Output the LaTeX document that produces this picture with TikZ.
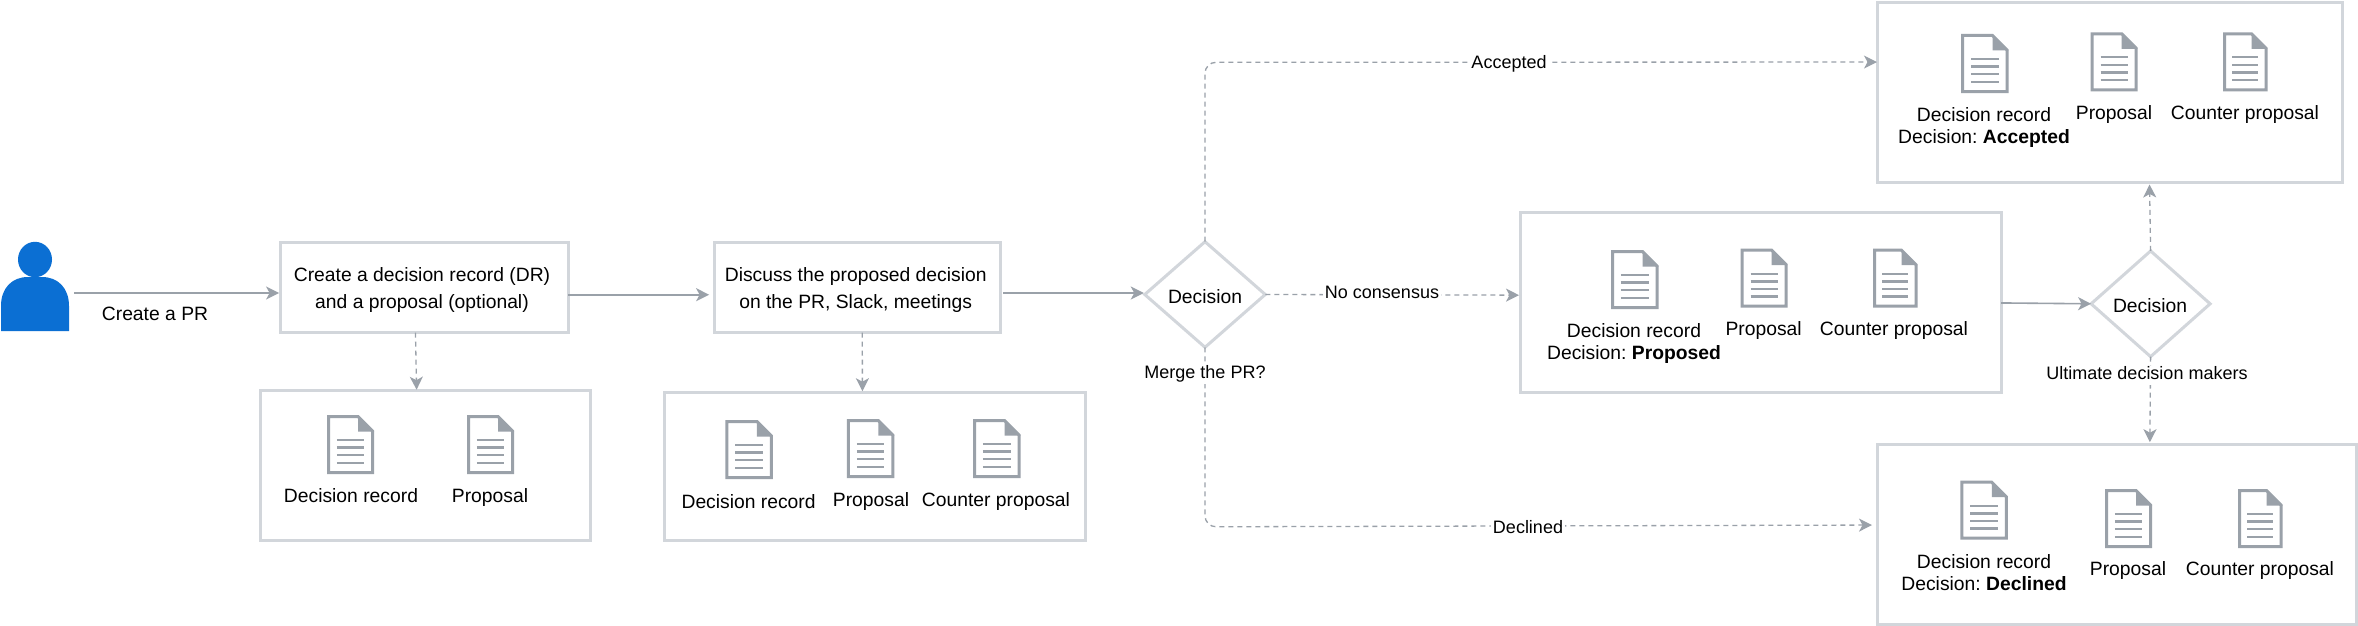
\documentclass[tikz,border=0pt]{standalone}
\usepackage{fontspec}
\setmainfont{Liberation Sans}
\AtBeginDocument{\frenchspacing}
\usetikzlibrary{arrows.meta,shapes.geometric}
\definecolor{edgegray}{HTML}{9AA1A9}
\definecolor{boxgray}{HTML}{D2D6DB}
\definecolor{userblue}{HTML}{0B6FD3}
\tikzset{
  box/.style={draw=boxgray,line width=3pt,fill=white,rectangle,inner sep=0pt,outer sep=0pt,anchor=north west},
  choice/.style={draw=boxgray,line width=3pt,fill=white,diamond,inner sep=0pt,outer sep=0pt,aspect=1.14,font=\fontsize{19.3}{23}\selectfont},
  flow/.style={draw=edgegray,line width=1.6pt,-{Stealth[length=13pt,width=13pt,inset=3.5pt]}},
  flowdash/.style={flow,dash pattern=on 5pt off 4pt,line width=1.3pt},
  txt/.style={inner sep=0pt,anchor=base,align=center,font=\fontsize{19.3}{22}\selectfont},
  boxtxt/.style={inner sep=0pt,anchor=base,align=center,font=\fontsize{19.3}{27}\selectfont},
  edgetxt/.style={inner sep=2pt,fill=white,anchor=center,align=center,text height=13pt,text depth=4pt,font=\fontsize{18}{21}\selectfont},
  iconline/.style={draw=edgegray,line width=3pt,line join=miter},
  iconrule/.style={draw=edgegray,line width=2.4pt},
}
\newcommand{\docicon}[4]{%
  \coordinate (#1) at (#2,#3);
  \begin{scope}[shift={(#1)}]
    \draw[iconline,fill=white] (1.5,1.5) -- ({#4-16},1.5) -- ({#4-1.5},16) -- ({#4-1.5},57.5) -- (1.5,57.5) -- cycle;
    \fill[edgegray] ({#4-16},0.5) -- (#4,16.5) -- ({#4-16},16.5) -- cycle;
    \foreach \ly in {25,32.6,40.2,47.8}
      \draw[iconrule] ({0.21*#4},\ly) -- ({0.79*#4},\ly);
  \end{scope}}
\begin{document}
\begin{tikzpicture}[x=1pt,y=-1pt]
\useasboundingbox (0,0) rectangle (2358,626);
\fill[white] (0,0) rectangle (2358,626);

% user
\node[inner sep=0pt,outer sep=0pt,minimum width=68pt,minimum height=89pt] (user) at (35,286.5) {};
\fill[userblue] (35,259.5) ellipse [x radius=17,y radius=17.7];
\fill[userblue] (1,331) -- (1,306) .. controls (1,288) and (12,277) .. (28,277) -- (42,277) .. controls (58,277) and (69,288) .. (69,306) -- (69,331) -- cycle;

% boxes
\node[box,minimum width=287.5pt,minimum height=90pt] (create) at (280.6,242.7) {};
\node[box,minimum width=330pt,minimum height=150pt] (artifacts1) at (260,390.7) {};
\node[box,minimum width=285.4pt,minimum height=90pt] (discuss) at (714.6,242.7) {};
\node[box,minimum width=421pt,minimum height=148pt] (artifacts2) at (664.6,392.7) {};
\node[box,minimum width=481pt,minimum height=179.7pt] (proposed) at (1520,212.3) {};
\node[box,minimum width=465pt,minimum height=179.3pt] (accepted) at (1877,2.7) {};
\node[box,minimum width=479.7pt,minimum height=179.3pt] (declined) at (1877,444.7) {};
\node[choice,minimum width=120.5pt,minimum height=105.6pt] (decision1) at (1205,294.5) {};
\node[choice,minimum width=119pt,minimum height=105.7pt] (decision2) at (2150.6,303.8) {};

% connectors
\draw[flow] ([xshift=5pt,yshift=-6.5pt]user.east) -- ([xshift=-1.5pt,yshift=-5.3pt]create.west);
\node[boxtxt] (createpr) at (155,320.5) {Create a PR};
\draw[flow] ([yshift=-7pt]create.east) -- ([xshift=-5.5pt,yshift=-7pt]discuss.west);
\draw[flow] ([xshift=3pt,yshift=-5.3pt]discuss.east) -- ([xshift=-1pt,yshift=1.5pt]decision1.west);
\draw[flowdash] ([xshift=-8.9pt]create.south) -- ([xshift=-8.4pt,yshift=1pt]artifacts1.north);
\draw[flowdash] ([xshift=5pt]discuss.south) -- ([xshift=-12.7pt,yshift=1.5pt]artifacts2.north);

\coordinate (acceptedturn) at (1205,62.3);
\coordinate (declinedturn) at (1205,526.8);
\draw[flowdash,rounded corners=11pt] (decision1.north) -- (acceptedturn) -- ([yshift=30.3pt]accepted.west);
\draw[flowdash,rounded corners=11pt] (decision1.south) -- (declinedturn) -- ([xshift=-5pt,yshift=9.3pt]declined.west);
\draw[flowdash] (decision1.east) -- ([xshift=-1pt,yshift=7pt]proposed.west);
\draw[flow] ([yshift=-0.8pt]proposed.east) -- (decision2.west);
\draw[flowdash] (decision2.north) -- ([xshift=40pt,yshift=-2.5pt]accepted.south);
\draw[flowdash] (decision2.south) -- ([xshift=33pt,yshift=2.5pt]declined.north);

\node[edgetxt] (lblaccepted) at (1509,64.5) {Accepted};
\node[edgetxt] (lbldeclined) at (1528,528.5) {Declined};
\node[edgetxt] (lblnocons) at (1382,293.5) {No consensus};
\node[edgetxt] (lblmerge) at (1205,373.5) {Merge the PR?};
\node[edgetxt,inner sep=1pt] (lblultimate) at (2147,375) {Ultimate decision makers};

% box text
\node[boxtxt] (createtxt) at (422,308.5) {Create a decision record (DR)\\and a proposal (optional)};
\node[boxtxt] (discusstxt) at (855.7,308.5) {Discuss the proposed decision\\on the PR, Slack, meetings};
\node[txt] (dtxt1) at (1205,303) {Decision};
\node[txt] (dtxt2) at (2150,312) {Decision};

% artifacts 1
\docicon{a1}{327}{415}{47}
\docicon{a2}{467}{415}{47}
\node[txt] (a1t) at (351,502) {Decision record};
\node[txt] (a2t) at (490,502) {Proposal};

% artifacts 2
\docicon{b1}{725.4}{420}{47.5}
\docicon{b2}{846.8}{419}{47.5}
\docicon{b3}{973}{419}{47.5}
\node[txt] (b1t) at (748.6,508) {Decision record};
\node[txt] (b2t) at (871,506) {Proposal};
\node[txt] (b3t) at (996,506) {Counter proposal};

% proposed
\docicon{c1}{1611}{250}{47.5}
\docicon{c2}{1740.7}{248.7}{47}
\docicon{c3}{1873}{248.7}{44.5}
\node[txt] (c1t) at (1634,359) {Decision record\\Decision: \textbf{Proposed}};
\node[txt] (c2t) at (1763.6,335) {Proposal};
\node[txt] (c3t) at (1894,335) {Counter proposal};

% accepted
\docicon{e1}{1961}{34}{47.5}
\docicon{e2}{2090.7}{32.3}{47}
\docicon{e3}{2223}{32.3}{44.5}
\node[txt] (e1t) at (1984,143) {Decision record\\Decision: \textbf{Accepted}};
\node[txt] (e2t) at (2114,119) {Proposal};
\node[txt] (e3t) at (2245,119) {Counter proposal};

% declined
\docicon{f1}{1960.3}{480.7}{47.5}
\docicon{f2}{2105}{489}{47}
\docicon{f3}{2238}{489}{44.5}
\node[txt] (f1t) at (1984,590) {Decision record\\Decision: \textbf{Declined}};
\node[txt] (f2t) at (2128,575) {Proposal};
\node[txt] (f3t) at (2260,575) {Counter proposal};
\end{tikzpicture}
\end{document}
